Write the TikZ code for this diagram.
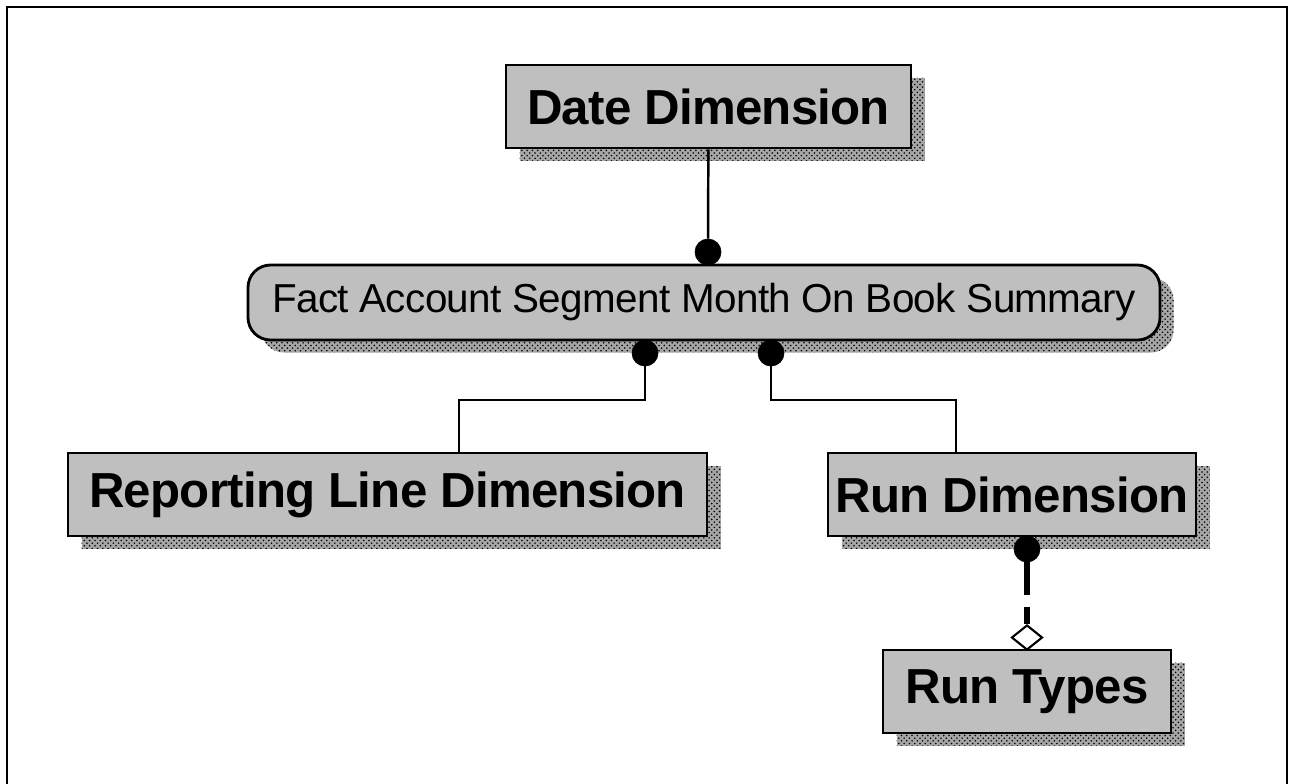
\documentclass[tikz,border=0pt]{standalone}
\usepackage{fontspec}
\setmainfont{Liberation Sans}
\newfontfamily\boxfont[LetterSpace=-1.5]{Liberation Sans}
\usetikzlibrary{shadows,patterns,shapes.geometric}

\begin{document}
\begin{tikzpicture}[
		shade box/.style={shadow xshift=0.27cm, shadow yshift=-0.25cm, opacity=1},
		entity/.style={rectangle, draw, line width=1.6pt, fill=black!25, inner sep=0pt,
			minimum height=1.66cm, font=\boxfont\fontsize{28}{32}\selectfont\bfseries,
			drop shadow={shade box, fill=black!35},
			drop shadow={shade box, pattern=crosshatch dots, pattern color=black}},
		fact/.style={entity, rounded corners=0.45cm, minimum height=1.5cm,
			font=\boxfont\fontsize{23}{26}\selectfont},
		blob/.style={circle, fill, draw, inner sep=0pt, minimum size=0.52cm},
		link/.style={line width=1.4pt},
		optlink/.style={line width=3.4pt, dash pattern=on 0.92cm off 0.24cm on 0.4cm off 1cm}
	]
  \useasboundingbox (0cm, 0cm) rectangle (25.78cm, -15.66cm);
  \draw[line width=1.5pt] (0.14cm, -16cm) -- (0.14cm, -0.14cm) -- (25.74cm, -0.14cm) -- (25.74cm, -16cm);

  \node (date_dim) [entity, minimum width=8.1cm] at (14.17cm, -2.13cm) {Date Dimension};
  \node (fact) [fact, minimum width=18.24cm] at (14.08cm, -6.05cm) {Fact Account Segment Month On Book Summary};
  \node (rep_line) [entity, minimum width=12.78cm] at (7.75cm, -9.89cm) {Reporting Line Dimension};
  \node (run_dim) [entity, minimum width=7.36cm] at (20.24cm, -9.89cm) {Run Dimension};
  \node (run_types) [entity, minimum width=5.76cm] at (20.54cm, -13.83cm) {Run Types};

  \node (dot_date) [blob] at (14.16cm, -5.04cm) {};
  \node (dot_rep) [blob] at (12.9cm, -7.06cm) {};
  \node (dot_run) [blob] at (15.42cm, -7.06cm) {};
  \node (dot_types) [blob] at (20.54cm, -10.98cm) {};
  \node (dia) [diamond, draw, fill=white, line width=1.2pt, inner sep=0pt, minimum width=0.62cm, minimum height=0.5cm] at (20.54cm, -12.75cm) {};

  \coordinate (bend_rep) at (9.18cm, -8cm);
  \coordinate (bend_run) at (19.12cm, -8cm);

  \draw[link] (date_dim) -- (dot_date);
  \draw[link] (dot_rep) |- (bend_rep) -- (bend_rep |- rep_line.north);
  \draw[link] (dot_run) |- (bend_run) -- (bend_run |- run_dim.north);
  \draw[optlink] (dot_types.center) -- (dia.north);
\end{tikzpicture}
\end{document}
